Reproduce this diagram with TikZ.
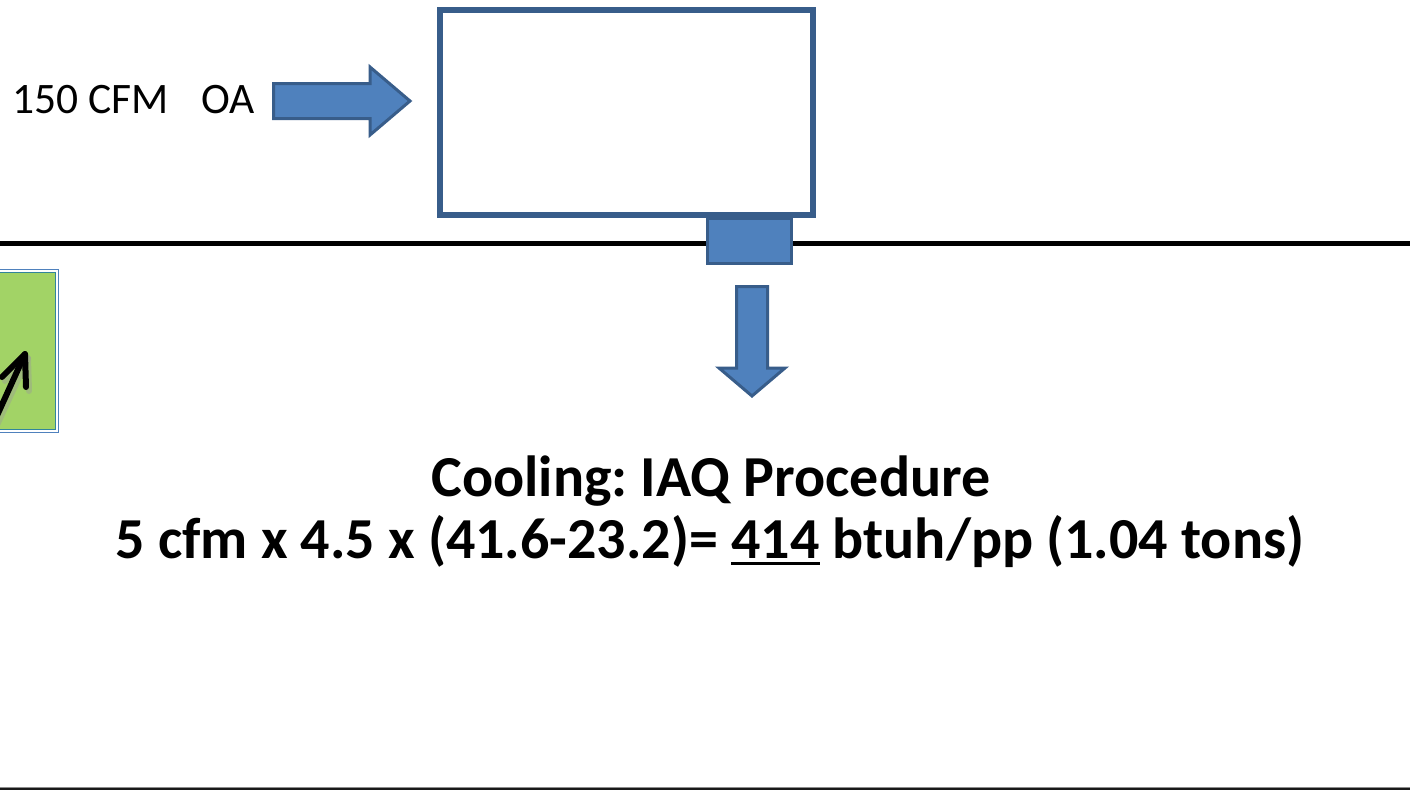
\documentclass[tikz,border=0pt]{standalone}
\usepackage{fontspec}
\setmainfont{Carlito}
\frenchspacing
\definecolor{bfill}{HTML}{4F81BD}
\definecolor{bline}{HTML}{385D8A}
\definecolor{gfill}{HTML}{A2D366}
\definecolor{gline}{HTML}{31859C}
\definecolor{gouter}{HTML}{4F81BD}
\newcommand\myul[1]{\setbox0\hbox{#1}\rlap{\rule[-7pt]{\wd0}{3pt}}\box0\relax}
\tikzset{
  blueshape/.style={fill=bfill, draw=bline, line width=3pt, line join=miter},
  unitbox/.style={draw=bline, line width=6pt, fill=white},
  lbl/.style={inner sep=0pt, anchor=base},
}
\begin{document}
\begin{tikzpicture}[x=1pt,y=-1pt]
\useasboundingbox (0,0) rectangle (1410,790);
\fill[white] (0,0) rectangle (1410,790);
% horizontal roof line
\draw[line width=5pt] (0,243) coordinate (roofL) -- (1410,243) coordinate (roofR);
% unit box
\draw[unitbox] (440,10) rectangle (813,215);
\node[inner sep=0pt, minimum width=373pt, minimum height=205pt] (unit) at (626.5,112.5) {};
% supply duct
\draw[blueshape] (707.5,218.5) rectangle (791.5,263.5);
\node[inner sep=0pt] (duct) at (749.5,241) {};
% OA arrow
\draw[blueshape] (273.5,83.5) -- (370,83.5) -- (370,67) -- (410,101) -- (370,135) -- (370,118.5) -- (273.5,118.5) -- cycle;
% supply arrow
\draw[blueshape] (736.5,286.5) -- (767.5,286.5) -- (767.5,368) -- (785,368) -- (752,396) -- (719,368) -- (736.5,368) -- cycle;
% green box
\draw[gouter, line width=1.5pt] (-5,269.5) rectangle (58.5,432.5);
\draw[gline, fill=gfill, line width=1.8pt] (-5,272.5) rectangle (55.5,429.5);
\node[inner sep=0pt] (green) at (25,351) {};
% black arrow in green box
\draw[black!40, line width=6pt, line cap=round, line join=round, opacity=0.4] (-3,425) -- (28,358);
\draw[black!40, line width=6pt, line cap=round, line join=round, opacity=0.4] (5,381) -- (28,358) -- (29,391);
\draw[black, line width=6pt, line cap=round, line join=round] (-5,420) -- (25,354);
\draw[black, line width=6pt, line cap=round, line join=round] (2,377) -- (25,354) -- (26,387);
% texts
\node[lbl, anchor=base west] (oa) at (12,113) {\fontsize{43.5}{50}\selectfont 150 CFM\hspace{0.75em}OA};
\node[lbl] (t1) at (711,496) {\fontsize{58}{68}\selectfont\bfseries Cooling: IAQ Procedure};
\node[lbl] (t2) at (710,558) {\fontsize{58}{68}\selectfont\bfseries 5 cfm x 4.5 x (41.6-23.2)= \myul{414} btuh/pp (1.04 tons)};
% bottom edge
\fill[black!45] (0,786.5) rectangle (1410,787.5);
\fill[black!90] (0,787.5) rectangle (1410,790);
\end{tikzpicture}
\end{document}
